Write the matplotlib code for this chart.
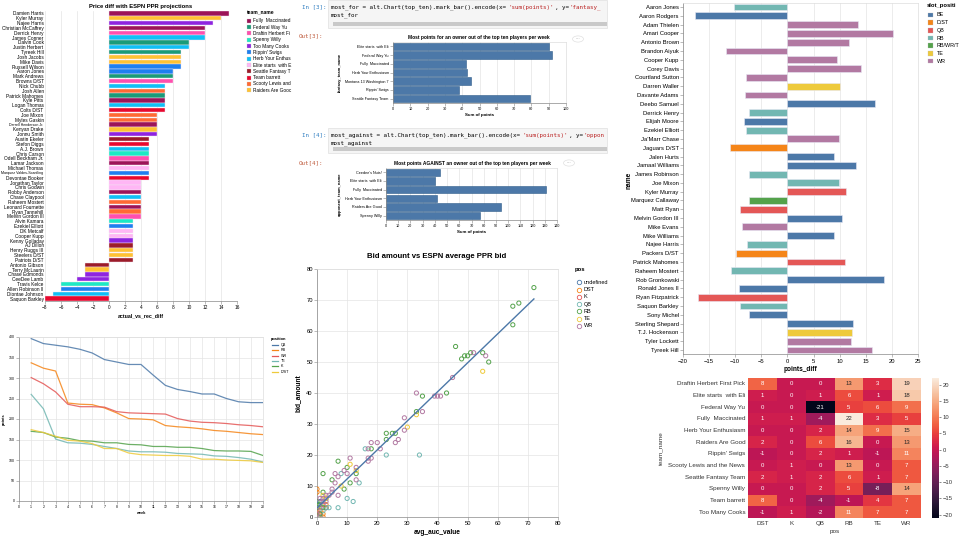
import numpy as np
import pandas as pd
import matplotlib
matplotlib.use("Agg")
import matplotlib.pyplot as plt
from matplotlib.patches import Rectangle, Circle
from matplotlib.lines import Line2D
import seaborn as sns

plt.rcParams["font.family"] = ["Liberation Sans", "DejaVu Sans"]

W, H = 960, 540

# ---------------- data ----------------
price_players = [
    "Damien Harris", "Kyler Murray", "Najee Harris", "Christian McCaffrey", "Derrick Henry",
    "James Conner", "Dalvin Cook", "Justin Herbert", "Tyreek Hill", "Josh Jacobs",
    "Mike Davis", "Russell Wilson", "Aaron Jones", "Mark Andrews", "Browns D/ST",
    "Nick Chubb", "Josh Allen", "Patrick Mahomes", "Kyle Pitts", "Logan Thomas",
    "Colts D/ST", "Joe Mixon", "Myles Gaskin", "Darrell Henderson Jr.", "Kenyan Drake",
    "Jonnu Smith", "Austin Ekeler", "Stefon Diggs", "A.J. Brown", "Chris Carson",
    "Odell Beckham Jr.", "Lamar Jackson", "Michael Thomas", "Marquez Valdes-Scantling",
    "Devontae Booker", "Jonathan Taylor", "Chris Godwin", "Robby Anderson", "Chase Claypool",
    "Raheem Mostert", "Leonard Fournette", "Ryan Tannehill", "Melvin Gordon III",
    "Alvin Kamara", "Ezekiel Elliott", "DK Metcalf", "Cooper Kupp", "Kenny Golladay",
    "AJ Dillon", "Henry Ruggs III", "Steelers D/ST", "Patriots D/ST", "Antonio Gibson",
    "Terry McLaurin", "Chase Edmonds", "CeeDee Lamb", "Travis Kelce", "Allen Robinson II",
    "Diontae Johnson", "Saquon Barkley",
]
price_diff = [15, 14, 13, 12, 12, 12, 10, 10, 9, 9, 9, 9, 8, 8, 8,
              7, 7, 7, 7, 7, 7, 6, 6, 6, 6, 6, 5, 5, 5, 5,
              5, 5, 5, 5, 5, 4, 4, 4, 4, 4, 4, 4, 4,
              3, 3, 3, 3, 3, 3, 3, 3, 3, -3, -3, -3, -4, -6, -6, -7, -8]
price_team = [
    "Fully", "Raiders", "Cooks", "Fully", "Draftin",
    "Herb", "Federal", "Herb", "Federal", "Raiders",
    "Raiders", "Rippin", "Rippin", "Federal", "Draftin",
    "Herb", "Scooty", "Federal", "Fully", "Herb",
    "Barrett", "Scooty", "Scooty", "Fully", "Raiders",
    "Cooks", "Seattle", "Barrett", "Herb", "Spenny",
    "Draftin", "Fully", "Elite", "Rippin",
    "Barrett", "Elite", "Elite", "Fully", "Herb",
    "Scooty", "Fully", "Scooty", "Draftin",
    "Spenny", "Rippin", "Elite", "Elite", "Cooks",
    "Seattle", "Raiders", "Raiders", "Seattle", "Seattle",
    "Raiders", "Cooks", "Cooks", "Spenny", "Rippin",
    "Herb", "Barrett",
]
team_keys = ["Fully", "Federal", "Draftin", "Spenny", "Cooks", "Rippin",
             "Herb", "Elite", "Seattle", "Barrett", "Scooty", "Raiders"]
team_labels = ["Fully  Maccinated", "Federal Way Yu", "Draftin Herbert Fi", "Spenny Willy",
               "Too Many Cooks", "Rippin' Swigs", "Herb Your Enthus", "Elite starts  with E",
               "Seattle Fantasy T", "Team barrett", "Scooty Lewis and", "Raiders Are Gooc"]
team_colors = ["#9c1458", "#1a9b78", "#ff4fae", "#1de9c4", "#8e24e0", "#1e7ff0",
               "#10c0f5", "#ffb6f5", "#9b1c2a", "#e8082e", "#ff6a33", "#ffc233"]

owners_for = ["Elite starts  with Eli", "Federal Way Yu", "Fully  Maccinated",
              "Herb Your Enthusiasm", "Montana 13 Washington 7", "Rippin' Swigs",
              "Seattle Fantasy Team"]
points_for = [90, 92, 42, 43, 45, 38, 79]

owners_against = ["Ceedee's Nuts!", "Elite starts  with Eli", "Fully  Maccinated",
                  "Herb Your Enthusiasm", "Raiders Are Good", "Spenny Willy"]
points_against = [44, 40, 131, 42, 94, 77]

weeks = list(range(1, 21))
positions = ["QB", "RB", "WR", "TE", "K", "D/ST"]
qb_pts = [396, 384, 380, 376, 370, 361, 345, 339, 333, 333, 307, 282, 272, 267, 261, 261, 250, 242, 240, 240]
rb_pts = [337, 324, 317, 239, 236, 235, 227, 215, 201, 200, 198, 184, 181, 179, 176, 172, 170, 167, 164, 162]
wr_pts = [301, 286, 266, 236, 230, 230, 229, 218, 215, 214, 213, 212, 201, 195, 192, 191, 189, 186, 184, 181]
te_pts = [260, 225, 151, 142, 141, 138, 133, 128, 122, 120, 120, 119, 116, 115, 114, 110, 109, 106, 102, 95]
k_pts = [170, 167, 156, 153, 147, 146, 142, 142, 138, 137, 133, 133, 131, 131, 128, 123, 122, 122, 121, 111]
dst_pts = [174, 167, 158, 148, 146, 140, 128, 128, 117, 113, 112, 111, 111, 109, 102, 102, 100, 99, 98, 94]
pos_colors = ["#4c78a8", "#f58518", "#e45756", "#72b7b2", "#54a24b", "#eeca3b"]

bid_pos_order = ["undefined", "DST", "K", "QB", "RB", "TE", "WR"]
bid_pos_colors = ["#4c78a8", "#f58518", "#e45756", "#72b7b2", "#54a24b", "#eeca3b", "#b279a2"]
auc_value = [72, 67, 65, 65, 46, 51, 55, 48, 49, 50, 57, 43, 35, 33, 23, 25, 26, 23, 18, 7,
             10, 2, 13, 5, 11, 9, 0, 1, 2, 3, 2, 0, 1,
             52, 56, 45, 39, 40, 41, 33, 35, 29, 29, 26, 27, 18, 20, 17, 21, 17, 18, 17, 11,
             13, 10, 6, 7, 13, 6, 5, 5, 7, 3, 4, 1, 2, 1, 0, 3, 2, 9,
             16, 23, 34, 8, 14, 10, 12, 7, 3, 4, 2, 1,
             55, 33, 30, 11, 13, 8, 2, 3,
             0, 0, 0, 1, 2, 3, 3, 2, 0,
             0, 1, 3, 2, 1,
             0, 1]
bid_amount = [74, 69, 68, 62, 55, 53, 53, 51, 52, 52, 50, 40, 39, 34, 27, 27, 27, 25, 22, 18,
              16, 14, 14, 12, 11, 9, 5, 4, 3, 6, 8, 3, 1,
              53, 52, 45, 39, 39, 39, 40, 34, 32, 28, 24, 25, 24, 24, 22, 22, 19, 19, 18, 19,
              16, 14, 14, 13, 12, 11, 9, 8, 7, 7, 7, 6, 5, 3, 1, 5, 6, 15,
              22, 20, 20, 14, 11, 6, 5, 3, 3, 3, 2, 0,
              47, 33, 29, 17, 15, 10, 7, 6,
              9, 8, 3, 2, 1, 3, 4, 0, 1,
              2, 1, 3, 4, 0,
              4, 5]
bid_pos = (["RB"] * 33 + ["WR"] * 38 + ["QB"] * 12 + ["TE"] * 8 + ["DST"] * 9
           + ["K"] * 5 + ["undefined"] * 2)

slot_names = [
    "Aaron Jones", "Aaron Rodgers", "Adam Thielen", "Amari Cooper", "Antonio Brown",
    "Brandon Aiyuk", "Cooper Kupp", "Corey Davis", "Courtland Sutton", "Darren Waller",
    "Davante Adams", "Deebo Samuel", "Derrick Henry", "Elijah Moore", "Ezekiel Elliott",
    "Ja'Marr Chase", "Jaguars D/ST", "Jalen Hurts", "Jamaal Williams", "James Robinson",
    "Joe Mixon", "Kyler Murray", "Marquez Callaway", "Matt Ryan", "Melvin Gordon III",
    "Mike Evans", "Mike Williams", "Najee Harris", "Packers D/ST", "Patrick Mahomes",
    "Raheem Mostert", "Rob Gronkowski", "Ronald Jones II", "Ryan Fitzpatrick", "Saquon Barkley",
    "Sony Michel", "Sterling Shepard", "T.J. Hockenson", "Tyler Lockett", "Tyreek Hill",
]
slot_diff = [-10.2, -17.7, 13.6, 20.2, 11.7, -11.7, 9.4, 14.1, -7.9, 10.0,
             -8.2, 16.8, -7.3, -8.4, -7.9, 9.8, -11.0, 9.0, 13.1, -7.3,
             9.9, 11.3, -7.4, -9.1, 10.5, -8.7, 9.0, -7.8, -9.8, 11.0,
             -10.8, 18.4, -9.2, -17.2, -9.1, -7.3, 12.6, 12.3, 12.1, 16.2]
slot_pos = ["RB", "BE", "WR", "WR", "WR", "WR", "WR", "WR", "WR", "TE",
            "WR", "BE", "RB", "BE", "RB", "WR", "D/ST", "BE", "BE", "RB",
            "RB", "QB", "RB/WR/TE", "QB", "BE", "WR", "BE", "RB", "D/ST", "QB",
            "RB", "BE", "BE", "QB", "RB", "BE", "BE", "TE", "WR", "WR"]
slot_order = ["BE", "D/ST", "QB", "RB", "RB/WR/TE", "TE", "WR"]
slot_labels = ["BE", "D/ST", "QB", "RB", "RB/WR/T", "TE", "WR"]
slot_colors = ["#4c78a8", "#f58518", "#e45756", "#72b7b2", "#54a24b", "#eeca3b", "#b279a2"]

heat_teams = ["Draftin Herbert First Pick", "Elite starts  with Eli", "Federal Way Yu",
              "Fully  Maccinated", "Herb Your Enthusiasm", "Raiders Are Good", "Rippin' Swigs",
              "Scooty Lewis and the News", "Seattle Fantasy Team", "Spenny Willy",
              "Team barrett", "Too Many Cooks"]
heat_pos = ["DST", "K", "QB", "RB", "TE", "WR"]
heat_values = [
    [8, 0, 0, 13, 3, 19],
    [1, 0, 1, 6, 1, 18],
    [0, 0, -21, 5, 6, 9],
    [1, 1, -4, 22, 3, 5],
    [0, 0, 2, 14, 9, 15],
    [2, 0, 6, 16, 0, 13],
    [-1, 0, 2, 1, -1, 11],
    [0, 1, 0, 13, 0, 7],
    [2, 1, 2, 6, 1, 7],
    [0, 0, 2, 5, -8, 14],
    [8, 0, -4, -1, 4, 7],
    [-1, 1, -2, 11, 7, 7],
]

# ---------------- helpers ----------------
fig = plt.figure(figsize=(9.6, 5.4), dpi=100)
fig.patch.set_facecolor("white")


def rect(x0, y0, x1, y1):
    return [x0 / W, 1 - y1 / H, (x1 - x0) / W, (y1 - y0) / H]


def ftext(x, y, s, **kw):
    kw.setdefault("va", "center")
    kw.setdefault("ha", "left")
    return fig.text(x / W, 1 - y / H, s, **kw)


def fbox(x0, y0, x1, y1, **kw):
    fig.add_artist(Rectangle((x0 / W, 1 - y1 / H), (x1 - x0) / W, (y1 - y0) / H,
                             transform=fig.transFigure, **kw))


def vega_axes(ax, fs, grid="x"):
    ax.set_facecolor("white")
    for side in ["top", "right"]:
        ax.spines[side].set_color("#dddddd")
    for side in ["left", "bottom"]:
        ax.spines[side].set_color("#888888")
    for sp in ax.spines.values():
        sp.set_linewidth(0.5)
    ax.grid(True, axis=grid, color="#e4e4e4", linewidth=0.5)
    ax.set_axisbelow(True)
    ax.tick_params(axis="both", labelsize=fs, length=2, width=0.4, color="#888888", pad=1)


CODE_FS = 4.25
CW = 0.602 * CODE_FS * 100 / 72


def code_line(x, y, parts, xmax=607):
    cx = x
    for s, c in parts:
        n = int((xmax - cx) // CW)
        if n <= 0:
            break
        s = s[:n]
        ftext(cx, y, s, family="DejaVu Sans Mono", fontsize=CODE_FS, color=c)
        cx += len(s) * CW


# ---------------- top-left: price diff ----------------
axA = fig.add_axes(rect(45, 11, 237, 301))
yA = np.arange(len(price_players))
colA = [team_colors[team_keys.index(t)] for t in price_team]
axA.barh(yA, price_diff, height=0.9, color=colA, edgecolor="#f3e6f3", linewidth=0.3)
axA.set_ylim(len(price_players) - 0.5, -0.5)
axA.set_xlim(-8, 16)
axA.set_xticks(range(-8, 17, 2))
axA.set_yticks(yA, price_players)
vega_axes(axA, 3.4)
axA.spines["left"].set_visible(False)
axA.spines["top"].set_visible(False)
axA.spines["right"].set_visible(False)
axA.tick_params(axis="y", length=0)
# the two longest names only just fit in the left margin
for lab in axA.get_yticklabels():
    if len(lab.get_text()) > 20:
        lab.set_fontsize(2.6)
axA.set_title("Price diff with ESPN PPR projections", fontsize=4.2, fontweight="bold", pad=2.5)
axA.set_xlabel("actual_vs_rec_diff", fontsize=3.8, fontweight="bold", labelpad=2)

ftext(247, 13.3, "team_name", fontsize=3.6, fontweight="bold")
for i, (lab, c) in enumerate(zip(team_labels, team_colors)):
    yy = 20.7 + 6.33 * i
    fbox(247, yy - 2, 251, yy + 2, facecolor=c, edgecolor="#cccccc", linewidth=0.2)
    ftext(253.5, yy, lab, fontsize=3.4)

# ---------------- notebook panel ----------------
IN_C, OUT_C = "#307fc1", "#bf5b3d"
RED = "#ba2121"
ftext(327, 7, "In [3]:", fontsize=4.2, color=IN_C, ha="right", family="DejaVu Sans Mono")
ftext(323, 36, "Out[3]:", fontsize=4.2, color=OUT_C, ha="right", family="DejaVu Sans Mono")
ftext(327, 135, "In [4]:", fontsize=4.2, color=IN_C, ha="right", family="DejaVu Sans Mono")
ftext(323, 163, "Out[4]:", fontsize=4.2, color=OUT_C, ha="right", family="DejaVu Sans Mono")

for (y0, y1, l1, l2, var) in [(0, 28, 7, 15, "most_for"), (128, 153, 135, 143, "most_against")]:
    fbox(328, y0, 607, y1, facecolor="#f5f5f5", edgecolor="#e0e0e0", linewidth=0.5)
    fbox(333, y1 - 6, 607, y1 - 2.5, facecolor="#c9c9c9", edgecolor="none")
    second = "'fantasy_" if var == "most_for" else "'opponent_"
    code_line(331, l1, [(var + " = alt.Chart(top_ten).mark_bar().encode(x=", "black"),
                        ("'sum(points)'", RED), (", y=", "black"), (second, RED)])
    code_line(331, l2, [(var, "black")])

for (box, cats, vals, xmax, title, ylab, cx, by) in [
    ((393, 42, 566, 103), owners_for, points_for, 100,
     "Most points for an owner out of the top ten players per week", "fantasy_team_name", 479, 39),
    ((386, 168, 557, 220), owners_against, points_against, 140,
     "Most points AGAINST an owner out of the top ten players per week", "opponent_team_name", 472, 163),
]:
    ax = fig.add_axes(rect(*box))
    yy = np.arange(len(cats))
    ax.barh(yy, vals, height=0.88, color="#4c78a8", edgecolor="#2f5d8a", linewidth=0.4)
    ax.set_ylim(len(cats) - 0.5, -0.5)
    ax.set_xlim(0, xmax)
    ax.set_xticks(range(0, xmax + 1, 10))
    ax.set_yticks(yy, cats)
    vega_axes(ax, 2.7)
    ax.set_xlabel("Sum of points", fontsize=3.2, fontweight="bold", labelpad=1.5)
    ax.set_ylabel(ylab, fontsize=3.0, fontweight="bold", labelpad=2)
    ftext(cx, box[1] - 5, title, fontsize=3.5, fontweight="bold", ha="center")
    fig.add_artist(Circle(((box[2] + 12) / W, 1 - by / H), 5.5 / W, transform=fig.transFigure,
                          facecolor="white", edgecolor="#e0e0e0", linewidth=0.5))
    ftext(box[2] + 12, by, "···", fontsize=3.5, color="#999999", ha="center")

# ---------------- bottom-left: points per week ----------------
axC = fig.add_axes(rect(19, 337, 263, 501))
series = [qb_pts, rb_pts, wr_pts, te_pts, k_pts, dst_pts]
for pts, c in zip(series, pos_colors):
    axC.plot(weeks, pts, color=c, linewidth=0.9, alpha=0.85)
axC.set_xlim(0, 20)
axC.set_ylim(0, 400)
axC.set_xticks(range(0, 21))
axC.set_yticks(range(0, 401, 50))
vega_axes(axC, 2.5, grid="both")
axC.set_xlabel("week", fontsize=2.8, fontweight="bold", labelpad=1)
axC.set_ylabel("points", fontsize=2.8, fontweight="bold", labelpad=2)
ftext(271, 339, "position", fontsize=2.9, fontweight="bold")
for i, (p, c) in enumerate(zip(positions, pos_colors)):
    yy = 345 + 5.35 * i
    fig.add_artist(Line2D([272 / W, 278 / W], [1 - yy / H] * 2, transform=fig.transFigure,
                          color=c, linewidth=0.9))
    ftext(280.5, yy, p, fontsize=2.7)

# ---------------- scatter: bid vs auction value ----------------
axD = fig.add_axes(rect(317, 269, 558, 517))
for p, c in zip(bid_pos_order, bid_pos_colors):
    xs = [x for x, q in zip(auc_value, bid_pos) if q == p]
    ys = [y for y, q in zip(bid_amount, bid_pos) if q == p]
    axD.scatter(xs, ys, s=9, facecolors="none", edgecolors=c, linewidths=0.7, zorder=3)
slope, icpt = np.polyfit(auc_value, bid_amount, 1)
fx = np.array([min(auc_value), max(auc_value)])
axD.plot(fx, slope * fx + icpt, color="#4c78a8", linewidth=1.0, zorder=4)
axD.set_xlim(0, 80)
axD.set_ylim(0, 80)
axD.set_xticks(range(0, 81, 10))
axD.set_yticks(range(0, 81, 10))
vega_axes(axD, 4.2, grid="both")
axD.set_xlabel("avg_auc_value", fontsize=4.8, fontweight="bold", labelpad=2)
ftext(437, 257, "Bid amount vs ESPN average PPR bid", fontsize=5.6, fontweight="bold", ha="center")
ftext(298, 393, "bid_amount", fontsize=4.8, fontweight="bold", rotation=90, ha="center")
ftext(575, 270, "pos", fontsize=4.2, fontweight="bold")
for i, (p, c) in enumerate(zip(bid_pos_order, bid_pos_colors)):
    yy = 282.3 + 7.25 * i
    fig.add_artist(Line2D([578.5 / W], [1 - yy / H], transform=fig.transFigure, marker="o",
                          markersize=3.2, markerfacecolor="none", markeredgecolor=c,
                          markeredgewidth=0.6, linestyle="none"))
    ftext(583.5, yy, p, fontsize=4.0)

# ---------------- right: points diff by slot ----------------
axE = fig.add_axes(rect(683, 2.6, 918, 354.4))
yE = np.arange(len(slot_names))
colE = [slot_colors[slot_order.index(p)] for p in slot_pos]
axE.barh(yE, slot_diff, height=0.78, color=colE, edgecolor="#e8e8f4", linewidth=0.4)
axE.set_ylim(len(slot_names) - 0.5, -0.5)
axE.set_xlim(-20, 25)
axE.set_xticks(range(-20, 26, 5))
axE.set_yticks(yE, slot_names)
vega_axes(axE, 4.2)
axE.set_xlabel("points_diff", fontsize=4.7, fontweight="bold", labelpad=2)
ftext(629, 180, "name", fontsize=4.7, fontweight="bold", rotation=90, ha="center")
ftext(927, 6, "slot_positi", fontsize=4.2, fontweight="bold")
for i, (lab, c) in enumerate(zip(slot_labels, slot_colors)):
    yy = 15 + 7.67 * i
    fbox(928, yy - 2.3, 933, yy + 2.3, facecolor=c, edgecolor="#bbbbbb", linewidth=0.2)
    ftext(936.5, yy, lab, fontsize=3.9)

# ---------------- heatmap ----------------
axF = fig.add_axes(rect(748, 378, 921, 518))
caxF = fig.add_axes(rect(932, 378, 939, 518))
heat_df = pd.DataFrame(heat_values, index=heat_teams, columns=heat_pos)
sns.heatmap(heat_df, ax=axF, cbar_ax=caxF, annot=True, fmt="d", cmap="rocket",
            annot_kws={"size": 4.3}, xticklabels=True, yticklabels=True)
axF.tick_params(axis="both", labelsize=4.5, length=0, pad=2, colors="#333333")
axF.set_yticklabels(axF.get_yticklabels(), rotation=0)
axF.set_xlabel("pos", fontsize=4.6, color="#333333", labelpad=2)
axF.set_ylabel("team_name", fontsize=4.6, color="#333333", labelpad=3)
caxF.tick_params(labelsize=4.2, length=1.5, width=0.4, pad=1, colors="#333333")
caxF.set_yticks(range(-20, 21, 5))

fig.savefig("out.png", dpi=100)
